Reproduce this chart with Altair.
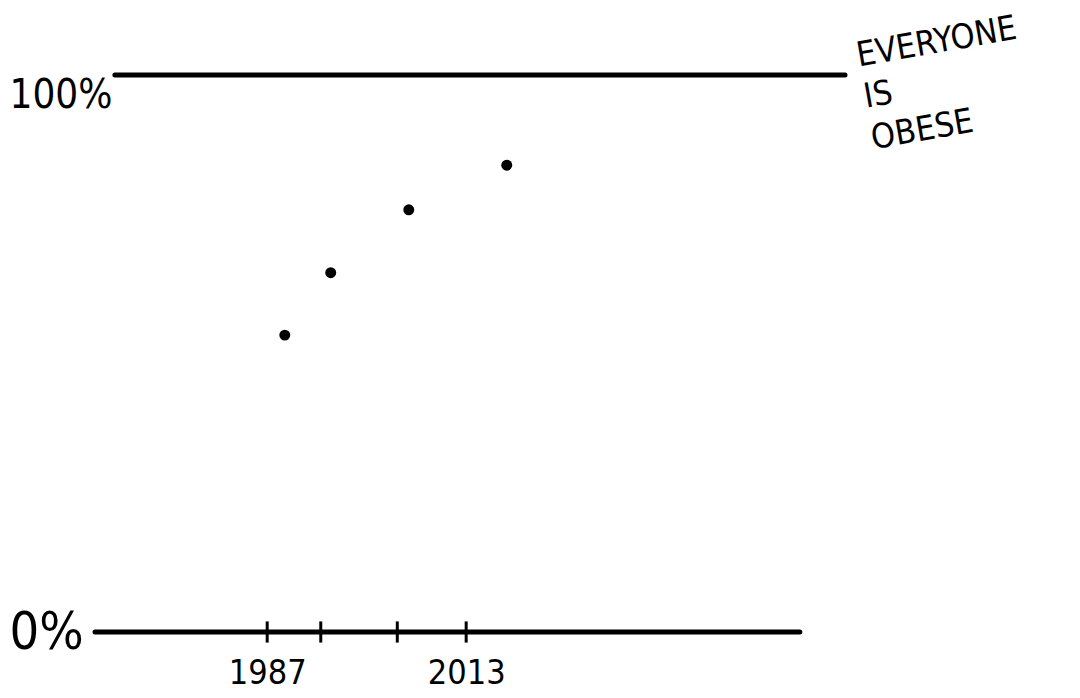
import altair as alt
import pandas as pd

# --- data ---
years = [1989.3, 1995.3, 2005.5, 2018.3]
obese_pct = [53.3, 64.5, 75.8, 83.8]

tick_years = [1987, 1994, 2004, 2013]
label_years = [1987, 2013]
y_label_values = [0, 100]

ref_levels = [0, 100]
ref_start = [1964.5, 1967.1]
ref_end = [2056.6, 2062.5]

note_lines = ["EVERYONE", "IS", "OBESE"]
note_year = [2062.5]
note_level = [100]

FONT = "Liberation Sans Narrow, DejaVu Sans Condensed, sans-serif"

points_df = pd.DataFrame({"year": years, "pct": obese_pct})
ticks_df = pd.DataFrame({"year": tick_years})
refs_df = pd.DataFrame({"level": ref_levels, "start": ref_start, "end": ref_end})
note_df = pd.DataFrame({"year": note_year, "pct": note_level})

xscale = alt.Scale(domain=[1964.5, 2062.5], nice=False, zero=False)
yscale = alt.Scale(domain=[0, 100], nice=False)

xaxis = alt.Axis(
    values=label_years, format="d", title=None, domain=False, ticks=False,
    tickSize=0, grid=False, labelFontSize=34, labelFont=FONT, labelColor="black",
    labelPadding=24, labelBaseline="top",
)
yaxis = alt.Axis(
    values=y_label_values, labelExpr="datum.value + '%'", title=None,
    domain=False, ticks=False, tickSize=0, grid=False, labelFont=FONT,
    labelColor="black", labelAlign="left", labelPadding=86,
    labelFontSize={"condition": {"test": "datum.value == 0", "value": 52}, "value": 40},
    labelOffset={"condition": {"test": "datum.value == 0", "value": 0}, "value": 20},
)

refs = alt.Chart(refs_df).mark_rule(strokeWidth=5, strokeCap="round", color="black").encode(
    x=alt.X("start:Q", scale=xscale, axis=xaxis),
    x2="end:Q",
    y=alt.Y("level:Q", scale=yscale, axis=yaxis),
)

ticks = alt.Chart(ticks_df).mark_rule(strokeWidth=3, color="black").encode(
    x=alt.X("year:Q", scale=xscale, axis=xaxis),
    y=alt.datum(-1.9, scale=yscale),
    y2=alt.datum(1.9),
)

points = alt.Chart(points_df).mark_point(filled=True, size=120, color="black", opacity=1).encode(
    x=alt.X("year:Q", scale=xscale, axis=xaxis),
    y=alt.Y("pct:Q", scale=yscale, axis=yaxis),
)

note = alt.Chart(note_df).mark_text(
    text=note_lines, align="left", baseline="middle", dx=15, dy=-16,
    fontSize=34, font=FONT, lineHeight=42, angle=350, color="black",
).encode(
    x=alt.X("year:Q", scale=xscale, axis=xaxis),
    y=alt.Y("pct:Q", scale=yscale, axis=yaxis),
)

chart = alt.layer(refs, ticks, points, note).properties(
    width=750, height=557,
    autosize=alt.AutoSizeParams(type="none"),
    padding={"left": 87, "top": 67, "right": 210, "bottom": 62},
    background="white",
).configure_view(stroke=None)

chart.save("out.html", embed_options={"renderer": "svg", "actions": False})
